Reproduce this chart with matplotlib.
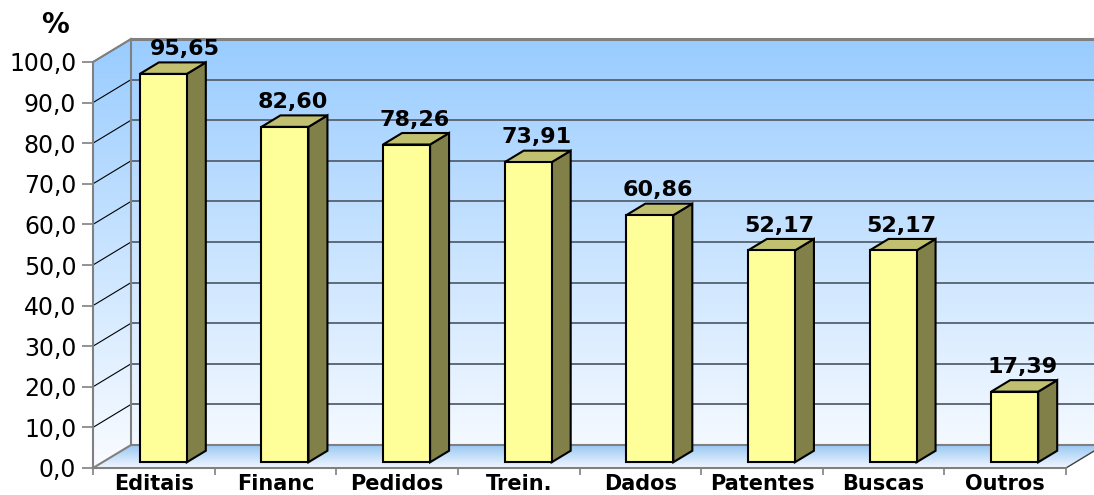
import numpy as np
import matplotlib
matplotlib.use("Agg")
import matplotlib.pyplot as plt
from matplotlib.patches import Polygon
from matplotlib.colors import LinearSegmentedColormap

categories = ["Editais", "Financ", "Pedidos", "Trein.", "Dados", "Patentes", "Buscas", "Outros"]
values = [95.65, 82.60, 78.26, 73.91, 60.86, 52.17, 52.17, 17.39]
value_labels = ["95,65", "82,60", "78,26", "73,91", "60,86", "52,17", "52,17", "17,39"]
yticks = [0, 10, 20, 30, 40, 50, 60, 70, 80, 90, 100]
ytick_labels = ["0,0", "10,0", "20,0", "30,0", "40,0", "50,0", "60,0", "70,0", "80,0", "90,0", "100,0"]

# ── layout (pixels of the 1094x495 picture) ──
W, H = 1094, 495
X0, X1 = 93, 1066          # front plane, left/right of category axis
Y0, Y100 = 468, 62         # front plane, value 0 / value 100
fig = plt.figure(figsize=(W / 100, H / 100), dpi=100)
ax = fig.add_axes([X0 / W, (H - Y0) / H, (X1 - X0) / W, (Y0 - Y100) / H])
ax.set_xlim(0, len(categories))
ax.set_ylim(0, 100)
ax.set_autoscale_on(False)

px_x = (X1 - X0) / len(categories)
px_y = (Y0 - Y100) / 100
DX = 38 / px_x             # full depth of the 3d box, in data units
DY = 23 / px_y
BAR_HALF = 47 / px_x / 2
NCAT = len(categories)
TOP = 100 + DY

WALL_TOP = "#99CCFF"
WALL_BOT = "#FAFCFF"
EDGE = "#808080"


def gradient(pts, y_lo, y_hi, c_lo, c_hi, z):
    cmap = LinearSegmentedColormap.from_list("g", [c_lo, c_hi])
    xs = [p[0] for p in pts]
    grad = np.linspace(0, 1, 256).reshape(-1, 1)
    im = ax.imshow(grad, cmap=cmap, origin="lower", aspect="auto",
                   extent=(min(xs), max(xs), y_lo, y_hi), zorder=z,
                   interpolation="bilinear")
    clip = Polygon(pts, closed=True, transform=ax.transData)
    im.set_clip_path(clip)
    im.set_clip_box(fig.bbox)


back = [(DX, DY), (NCAT + DX, DY), (NCAT + DX, TOP), (DX, TOP)]
side = [(0, 0), (DX, DY), (DX, TOP), (0, 100)]
floor = [(0, 0), (NCAT, 0), (NCAT + DX, DY), (DX, DY)]

gradient(back, 0, TOP, WALL_BOT, WALL_TOP, 0)
gradient(side, 0, TOP, WALL_BOT, WALL_TOP, 0)
gradient(floor, 0, DY, "#F2F7FF", "#96C6F2", 0.5)

# gridlines on back wall and side wall
for v in yticks[1:-1]:
    ax.plot([DX, NCAT + DX], [v + DY, v + DY], color="#56616f", lw=1.3,
            zorder=1, clip_on=False)
for v in yticks[1:]:
    ax.plot([0, DX], [v, v + DY], color="black", lw=0.8, zorder=1, clip_on=False)

# box edges
ax.plot([DX, NCAT + DX], [TOP, TOP], color=EDGE, lw=2.2, zorder=1, clip_on=False)
ax.plot([DX, DX], [DY, TOP], color=EDGE, lw=1.5, zorder=1, clip_on=False)
ax.plot([0, DX], [100, TOP], color=EDGE, lw=1.5, zorder=1, clip_on=False)
ax.plot([0, DX, NCAT + DX], [0, DY, DY], color=EDGE, lw=1.5, zorder=1, clip_on=False)
ax.plot([NCAT, NCAT + DX], [0, DY], color="#404040", lw=1, zorder=1, clip_on=False)

# ── bars ──
for i, v in enumerate(values):
    xl = i + 0.5 - BAR_HALF + 0.25 * DX
    xr = i + 0.5 + BAR_HALF + 0.25 * DX
    yb = 0.25 * DY
    yt = v + 0.25 * DY
    hx, hy = 0.5 * DX, 0.5 * DY
    z = 3 + i * 0.01
    ax.add_patch(Polygon([(xr, yb), (xr + hx, yb + hy), (xr + hx, yt + hy), (xr, yt)],
                         closed=True, facecolor="#808048", edgecolor="black",
                         lw=1.5, zorder=z, clip_on=False))
    ax.add_patch(Polygon([(xl, yt), (xr, yt), (xr + hx, yt + hy), (xl + hx, yt + hy)],
                         closed=True, facecolor="#C0C070", edgecolor="black",
                         lw=1.5, zorder=z, clip_on=False))
    ax.add_patch(Polygon([(xl, yb), (xr, yb), (xr, yt), (xl, yt)],
                         closed=True, facecolor="#FFFF99", edgecolor="black",
                         lw=1.5, zorder=z, clip_on=False))

# value labels above each bar
label_shift = [22 / px_x] + [8 / px_x] * (NCAT - 1)
for i, (v, lbl) in enumerate(zip(values, value_labels)):
    ax.text(i + 0.5 + 0.25 * DX + label_shift[i], v + 0.75 * DY + 0.8, lbl,
            ha="center", va="bottom", fontsize=16, fontweight="bold",
            zorder=5, clip_on=False)

# ── axes ──
for s in ("top", "right"):
    ax.spines[s].set_visible(False)
for s in ("left", "bottom"):
    ax.spines[s].set_color(EDGE)
    ax.spines[s].set_linewidth(1.5)
    ax.spines[s].set_zorder(2)

ax.set_yticks(yticks, ytick_labels)
ax.tick_params(axis="y", length=8, width=1.2, color=EDGE, pad=4, labelsize=17)
ax.set_xticks(np.arange(NCAT + 1))
ax.set_xticklabels([])
ax.set_xticks(np.arange(NCAT) + 0.5, categories, minor=True)
ax.tick_params(axis="x", which="major", length=5, width=1.2, color=EDGE)
ax.tick_params(axis="x", which="minor", length=0, pad=4, labelsize=15)
for t in ax.get_xticklabels(minor=True):
    t.set_fontweight("bold")

fig.text(55 / W, 1 - 25 / H, "%", ha="center", va="center",
         fontsize=20, fontweight="bold")

fig.savefig("out.png", dpi=100)
